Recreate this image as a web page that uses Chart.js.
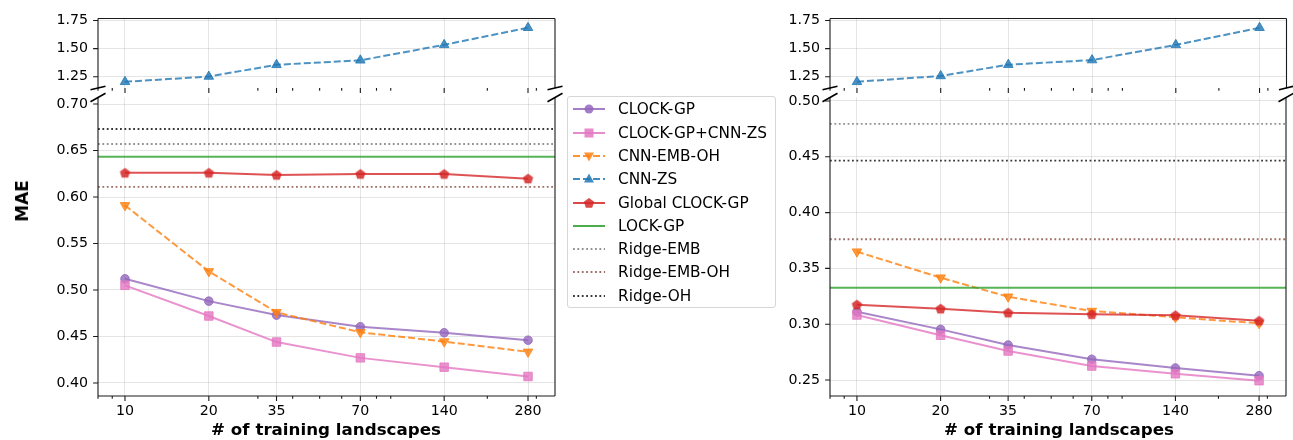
<!DOCTYPE html>
<html>
<head>
<meta charset="utf-8">
<script src="https://cdn.jsdelivr.net/npm/chart.js@4.4.1/dist/chart.umd.min.js"></script>
<style>
  body { margin: 0; background: #fff; font-family: "DejaVu Sans", sans-serif; }
  #wrap { position: relative; width: 1293px; height: 440px; overflow: hidden; }
  canvas { position: absolute; left: 0; top: 0; }
  .xtitle { position: absolute; top: 419px; font-weight: bold; font-size: 16.7px; transform: translateX(-50%); white-space: nowrap; }
  #ytitle { position: absolute; left: 22px; top: 201px; font-weight: bold; font-size: 17px; transform: translate(-50%, -50%) rotate(-90deg); }
  #legend { position: absolute; left: 567px; top: 96px; width: 207px; height: 210px; border: 1px solid #d6d6d6; border-radius: 3px; background: rgba(255,255,255,0.8); }
  .row { position: absolute; left: 0; height: 20px; font-size: 15.3px; line-height: 20px; white-space: nowrap; }
  .row svg { position: absolute; left: 5px; top: 2px; }
  .row span { position: absolute; left: 50px; top: 0; }
</style>
</head>
<body>
<div id="wrap">
  <canvas id="topL" width="1293" height="440"></canvas>
  <canvas id="botL" width="1293" height="440"></canvas>
  <canvas id="topR" width="1293" height="440"></canvas>
  <canvas id="botR" width="1293" height="440"></canvas>
  <div class="xtitle" style="left:326px"># of training landscapes</div>
  <div class="xtitle" style="left:1059px"># of training landscapes</div>
  <div id="ytitle">MAE</div>
  <div id="legend"></div>
</div>
<script>
// --- DATA ---
const xValues = [10, 20, 35, 70, 140, 280];
const xMinorTicks = [8, 9, 30, 40, 50, 60, 80, 90, 200, 300];
const xMin = 8, xMax = 350;

const seriesNames = ['CLOCK-GP', 'CLOCK-GP+CNN-ZS', 'CNN-EMB-OH', 'CNN-ZS', 'Global CLOCK-GP',
                     'LOCK-GP', 'Ridge-EMB', 'Ridge-EMB-OH', 'Ridge-OH'];

// left panel
const clockGP_L      = [0.512, 0.488, 0.473, 0.4605, 0.454, 0.446];
const clockGPcnn_L   = [0.505, 0.472, 0.444, 0.427, 0.417, 0.407];
const cnnEmbOh_L     = [0.591, 0.520, 0.476, 0.4545, 0.4445, 0.4335];
const cnnZs_L        = [1.205, 1.252, 1.356, 1.396, 1.533, 1.685];
const globalClock_L  = [0.626, 0.626, 0.6237, 0.6247, 0.6247, 0.6197];
const lockGP_L = 0.6433, ridgeEmb_L = 0.657, ridgeEmbOh_L = 0.6108, ridgeOh_L = 0.6731;

// right panel
const clockGP_R      = [0.3112, 0.2954, 0.2814, 0.2686, 0.2608, 0.2539];
const clockGPcnn_R   = [0.3082, 0.2901, 0.2760, 0.2625, 0.2556, 0.2494];
const cnnEmbOh_R     = [0.3650, 0.3417, 0.3246, 0.3118, 0.3062, 0.3008];
const cnnZs_R        = [1.205, 1.257, 1.357, 1.398, 1.533, 1.685];
const globalClock_R  = [0.3175, 0.3139, 0.3103, 0.3089, 0.3080, 0.3031];
const lockGP_R = 0.3326, ridgeEmb_R = 0.4794, ridgeEmbOh_R = 0.3761, ridgeOh_R = 0.4465;

const yTicksTop = [1.25, 1.50, 1.75];
const yTicksL = [0.40, 0.45, 0.50, 0.55, 0.60, 0.65, 0.70];
const yTicksR = [0.25, 0.30, 0.35, 0.40, 0.45, 0.50];

// --- STYLES ---
const styles = {
  'CLOCK-GP':        { rgb: '148,103,189', dash: [],        marker: 'circle' },
  'CLOCK-GP+CNN-ZS': { rgb: '227,119,194', dash: [],        marker: 'rect' },
  'CNN-EMB-OH':      { rgb: '255,127,14',  dash: [7, 3],    marker: 'down' },
  'CNN-ZS':          { rgb: '31,119,180',  dash: [7, 3],    marker: 'up' },
  'Global CLOCK-GP': { rgb: '214,39,40',   dash: [],        marker: 'pentagon' },
  'LOCK-GP':         { rgb: '44,160,44',   dash: [],        marker: null },
  'Ridge-EMB':       { rgb: '127,127,127', dash: [1.8, 2.6], marker: null },
  'Ridge-EMB-OH':    { rgb: '140,86,75',   dash: [1.8, 2.6], marker: null },
  'Ridge-OH':        { rgb: '20,20,20',    dash: [1.8, 2.6], marker: null }
};
const col = (name, a) => `rgba(${styles[name].rgb},${a})`;

// pentagon marker as canvas
function pentagon(rgb) {
  const c = document.createElement('canvas');
  c.width = 13; c.height = 13;
  const g = c.getContext('2d');
  g.beginPath();
  for (let i = 0; i < 5; i++) {
    const a = -Math.PI / 2 + i * 2 * Math.PI / 5;
    const px = 6.5 + 5.4 * Math.cos(a), py = 6.9 + 5.4 * Math.sin(a);
    i ? g.lineTo(px, py) : g.moveTo(px, py);
  }
  g.closePath();
  g.fillStyle = `rgba(${rgb},0.85)`;
  g.fill();
  return c;
}
const pentR = pentagon(styles['Global CLOCK-GP'].rgb);

function seriesDataset(name, values) {
  const s = styles[name];
  const ds = {
    label: name,
    data: xValues.map((x, i) => ({ x: x, y: values[i] })),
    borderColor: col(name, 0.8),
    backgroundColor: col(name, 0.8),
    borderWidth: 2,
    borderDash: s.dash,
    pointBorderColor: col(name, 0.8),
    pointBackgroundColor: col(name, 0.8),
    pointBorderWidth: 1,
    pointRadius: 4.3,
    pointStyle: 'circle',
    tension: 0
  };
  if (s.marker === 'rect') { ds.pointStyle = 'rect'; ds.pointRadius = 6; }
  if (s.marker === 'up') { ds.pointStyle = 'triangle'; ds.pointRadius = 5.5; }
  if (s.marker === 'down') { ds.pointStyle = 'triangle'; ds.pointRadius = 5.5; ds.pointRotation = 180; }
  if (s.marker === 'pentagon') { ds.pointStyle = pentR; }
  return ds;
}
function hlineDataset(name, value) {
  const s = styles[name];
  return {
    label: name,
    data: [{ x: xMin, y: value }, { x: xMax, y: value }],
    borderColor: col(name, name === 'LOCK-GP' ? 0.8 : 0.85),
    borderWidth: name === 'LOCK-GP' ? 2 : 1.8,
    borderDash: s.dash,
    pointRadius: 0,
    tension: 0
  };
}

// --- AXES DECORATION (spines, ticks, break marks) ---
const decor = {
  id: 'decor',
  afterDraw(chart, args, o) {
    const { ctx, chartArea: a, scales: { x, y } } = chart;
    ctx.save();
    ctx.strokeStyle = '#1a1a1a';
    ctx.lineWidth = 1.1;
    ctx.beginPath();
    ctx.moveTo(a.left, a.top); ctx.lineTo(a.left, a.bottom);
    ctx.moveTo(a.right, a.top); ctx.lineTo(a.right, a.bottom);
    if (o.top) { ctx.moveTo(a.left, a.top); ctx.lineTo(a.right, a.top); }
    if (o.bottom) { ctx.moveTo(a.left, a.bottom); ctx.lineTo(a.right, a.bottom); }
    xValues.forEach(v => {
      const px = x.getPixelForValue(v);
      ctx.moveTo(px, a.bottom); ctx.lineTo(px, a.bottom + 4.9);
    });
    xMinorTicks.forEach(v => {
      const px = x.getPixelForValue(v);
      ctx.moveTo(px, a.bottom); ctx.lineTo(px, a.bottom + 2.8);
    });
    y.ticks.forEach(t => {
      const py = y.getPixelForValue(t.value);
      ctx.moveTo(a.left - 4.9, py); ctx.lineTo(a.left, py);
    });
    ctx.stroke();
    // break marks
    ctx.lineWidth = 1.6;
    ctx.strokeStyle = '#000';
    ctx.beginPath();
    const by = o.breakAt === 'bottom' ? a.bottom : a.top;
    const dy = o.breakAt === 'bottom' ? 1.8 : 4.2;
    [a.left, a.right].forEach(bx => {
      ctx.moveTo(bx - 7.5, by + dy); ctx.lineTo(bx + 7.5, by - dy);
    });
    ctx.stroke();
    ctx.restore();
  }
};

const tickFont = { family: 'DejaVu Sans', size: 14.2 };
const gridColor = 'rgba(176,176,176,0.33)';
const yAxisW = 90, xAxisH = 40;

function makeChart(id, box, yRange, yTicks, datasets, isTop) {
  const xH = isTop ? 0 : xAxisH;
  return new Chart(document.getElementById(id), {
    type: 'line',
    data: { datasets: datasets },
    options: {
      responsive: false,
      animation: false,
      devicePixelRatio: 1,
      layout: { padding: { left: box.left - yAxisW, right: 1293 - box.right, top: box.top, bottom: 440 - box.bottom - xH } },
      plugins: {
        legend: { display: false },
        tooltip: { enabled: false },
        decor: { top: isTop, bottom: !isTop, breakAt: isTop ? 'bottom' : 'top' }
      },
      scales: {
        x: {
          type: 'logarithmic',
          min: xMin, max: xMax,
          afterBuildTicks: s => { s.ticks = xValues.map(v => ({ value: v })); },
          afterFit: s => { s.height = xH; },
          grid: { color: gridColor, lineWidth: 1, drawTicks: false },
          border: { display: false },
          ticks: {
            display: !isTop,
            color: '#000',
            font: tickFont,
            padding: 7,
            maxRotation: 0,
            autoSkip: false,
            callback: v => String(v)
          }
        },
        y: {
          min: yRange[0], max: yRange[1],
          afterBuildTicks: s => { s.ticks = yTicks.map(v => ({ value: v })); },
          afterFit: s => { s.width = yAxisW; },
          grid: { color: gridColor, lineWidth: 1, drawTicks: false },
          border: { display: false },
          ticks: {
            color: '#000',
            font: tickFont,
            padding: 10,
            callback: v => v.toFixed(2)
          }
        }
      }
    },
    plugins: [decor]
  });
}

const boxTopL = { left: 98, right: 555, top: 14, bottom: 88 };
const boxBotL = { left: 98, right: 555, top: 97.5, bottom: 396 };
const boxTopR = { left: 830, right: 1289, top: 14, bottom: 88 };
const boxBotR = { left: 830, right: 1289, top: 97.5, bottom: 396 };

makeChart('topL', boxTopL, [1.15, 1.767], yTicksTop, [seriesDataset('CNN-ZS', cnnZs_L)], true);
makeChart('topR', boxTopR, [1.15, 1.767], yTicksTop, [seriesDataset('CNN-ZS', cnnZs_R)], true);

makeChart('botL', boxBotL, [0.386, 0.707], yTicksL, [
  hlineDataset('Ridge-OH', ridgeOh_L),
  hlineDataset('Ridge-EMB-OH', ridgeEmbOh_L),
  hlineDataset('Ridge-EMB', ridgeEmb_L),
  hlineDataset('LOCK-GP', lockGP_L),
  seriesDataset('Global CLOCK-GP', globalClock_L),
  seriesDataset('CNN-EMB-OH', cnnEmbOh_L),
  seriesDataset('CLOCK-GP+CNN-ZS', clockGPcnn_L),
  seriesDataset('CLOCK-GP', clockGP_L)
], false);

makeChart('botR', boxBotR, [0.2357, 0.5031], yTicksR, [
  hlineDataset('Ridge-OH', ridgeOh_R),
  hlineDataset('Ridge-EMB-OH', ridgeEmbOh_R),
  hlineDataset('Ridge-EMB', ridgeEmb_R),
  hlineDataset('LOCK-GP', lockGP_R),
  seriesDataset('Global CLOCK-GP', globalClock_R),
  seriesDataset('CNN-EMB-OH', cnnEmbOh_R),
  seriesDataset('CLOCK-GP+CNN-ZS', clockGPcnn_R),
  seriesDataset('CLOCK-GP', clockGP_R)
], false);

// --- LEGEND ---
function markerSvg(name) {
  const s = styles[name], c = col(name, 0.85);
  switch (s.marker) {
    case 'circle': return `<circle cx="16" cy="8" r="4.5" fill="${c}"/>`;
    case 'rect': return `<rect x="11.5" y="3.5" width="9" height="9" fill="${c}"/>`;
    case 'up': return `<polygon points="16,2.5 21,11.5 11,11.5" fill="${c}"/>`;
    case 'down': return `<polygon points="16,13.5 21,4.5 11,4.5" fill="${c}"/>`;
    case 'pentagon': {
      let p = [];
      for (let i = 0; i < 5; i++) {
        const a = -Math.PI / 2 + i * 2 * Math.PI / 5;
        p.push((16 + 5.4 * Math.cos(a)).toFixed(2) + ',' + (8.4 + 5.4 * Math.sin(a)).toFixed(2));
      }
      return `<polygon points="${p.join(' ')}" fill="${c}"/>`;
    }
    default: return '';
  }
}
const legend = document.getElementById('legend');
seriesNames.forEach((name, i) => {
  const s = styles[name];
  const row = document.createElement('div');
  row.className = 'row';
  row.style.top = (2.3 + i * 23.3) + 'px';
  row.innerHTML =
    `<svg width="32" height="16"><line x1="0" y1="8" x2="32" y2="8" stroke="${col(name, 0.85)}" stroke-width="2" stroke-dasharray="${s.dash.join(' ') || 'none'}"/>${markerSvg(name)}</svg>` +
    `<span>${name}</span>`;
  legend.appendChild(row);
});
</script>
</body>
</html>
